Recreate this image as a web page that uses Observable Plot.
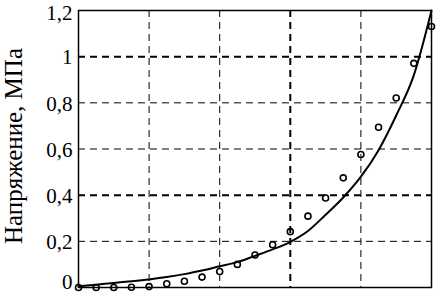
<!DOCTYPE html>
<html><head><meta charset="utf-8">
<script src="https://cdn.jsdelivr.net/npm/d3@7"></script>
<script src="https://cdn.jsdelivr.net/npm/@observablehq/plot@0.6"></script>
<style>
body{margin:0;background:#fff;}
svg{font-family:"Liberation Serif","Times New Roman",serif;}
</style>
</head><body>
<div id="chart"></div>
<script>
// Measured points (index 0..20)
const xIndex = [0,1,2,3,4,5,6,7,8,9,10,11,12,13,14,15,16,17,18,19,20];
const measured = [0,0,0,0.001,0.004,0.016,0.027,0.045,0.069,0.10,0.141,0.185,0.242,0.309,0.388,0.475,0.576,0.694,0.821,0.971,1.131];
// Fitted curve
const fitted = [0.005,0.012,0.02,0.027,0.035,0.045,0.058,0.074,0.092,0.11,0.137,0.165,0.198,0.245,0.315,0.39,0.48,0.595,0.745,0.92,1.2];
const xGrid = [4,8,12,16];
const yTicks = [0,0.2,0.4,0.6,0.8,1,1.2];
const yTickLabels = ["0","0,2","0,4","0,6","0,8","1","1,2"];
const yLabel = "Напряжение, МПа";

const pts = xIndex.map((x,i)=>({x, y: measured[i]}));
const line = xIndex.map((x,i)=>({x, y: fitted[i]}));
const ticks = yTicks.map((y,i)=>({y, label: yTickLabels[i]}));
const thickY = [0.4, 1];
const thickX = [12];
const tickText = {y: "y", text: "label", frameAnchor: "left", textAnchor: "end", dx: -6, fontSize: 21, fill: "#000"};

const chart = Plot.plot({
  width: 438,
  height: 294,
  marginLeft: 78,
  marginRight: 7,
  marginTop: 10,
  marginBottom: 7,
  style: {fontFamily: "Liberation Serif, serif", fontSize: "21px", color: "#000", background: "#fff"},
  x: {domain: [0,20], axis: null},
  y: {domain: [0,1.2], axis: null},
  marks: [
    Plot.ruleY(yTicks.filter(d => d > 0 && d < 1.2), {stroke: "#000", strokeDasharray: "7,5",
      strokeWidth: d => thickY.includes(d) ? 2 : 1}),
    Plot.ruleX(xGrid, {stroke: "#000", strokeDasharray: "7,5",
      strokeWidth: d => thickX.includes(d) ? 2 : 1}),
    Plot.frame({stroke: "#000", strokeWidth: 1.5}),
    Plot.line(line, {x: "x", y: "y", stroke: "#000", strokeWidth: 2, curve: "monotone-x"}),
    Plot.dot(pts, {x: "x", y: "y", r: 3, stroke: "#000", strokeWidth: 1.6, fill: "none"}),
    Plot.text(ticks.filter(d => d.y > 0 && d.y < 1.2), {...tickText, dy: 1}),
    Plot.text(ticks.filter(d => d.y === 0), {...tickText, dy: -5}),
    Plot.text(ticks.filter(d => d.y === 1.2), {...tickText, dy: 3}),
    Plot.text([yLabel], {text: d => d, frameAnchor: "left", textAnchor: "middle", rotate: -90,
      dx: -65, dy: -3, fontSize: 25, fill: "#000"})
  ]
});
document.getElementById("chart").appendChild(chart);
</script>
</body></html>
